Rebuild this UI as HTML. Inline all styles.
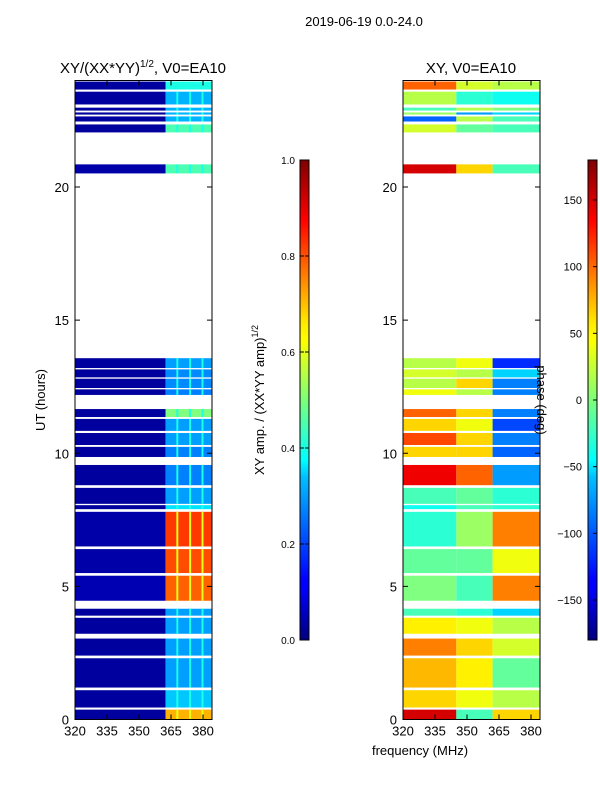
<!DOCTYPE html>
<html><head><meta charset="utf-8"><style>
body{margin:0;background:#fff;font-family:"Liberation Sans","DejaVu Sans",sans-serif}
</style></head><body>
<svg id="fig" width="600" height="800" xmlns="http://www.w3.org/2000/svg" font-family="Liberation Sans, DejaVu Sans, sans-serif">
<defs>
<linearGradient id="jet" x1="0" y1="1" x2="0" y2="0">
<stop offset="0" stop-color="#00007f"/><stop offset="0.11" stop-color="#0000ff"/><stop offset="0.125" stop-color="#0000ff"/>
<stop offset="0.34" stop-color="#00c0ff"/><stop offset="0.375" stop-color="#00ffff"/><stop offset="0.5" stop-color="#7dff7a"/>
<stop offset="0.625" stop-color="#ffff00"/><stop offset="0.66" stop-color="#ffea00"/><stop offset="0.875" stop-color="#ff0000"/><stop offset="1" stop-color="#7f0000"/>
</linearGradient>
</defs>
<text x="364" y="26" font-size="13" text-anchor="middle">2019-06-19 0.0-24.0</text>
<text x="143" y="73" font-size="15" text-anchor="middle">XY/(XX*YY)<tspan font-size="10" dy="-6">1/2</tspan><tspan dy="6">, V0=EA10</tspan></text>
<text x="471" y="73" font-size="15" text-anchor="middle">XY, V0=EA10</text>
<g id="left"></g>
<g id="right"></g>
<text transform="translate(45,400) rotate(-90)" font-size="13" text-anchor="middle">UT (hours)</text>
<text x="420" y="755" font-size="13" text-anchor="middle">frequency (MHz)</text>
<rect x="300" y="160" width="9" height="480" fill="url(#jet)" stroke="#000"/>
<rect x="588" y="160" width="9" height="480" fill="url(#jet)" stroke="#000"/>
<text transform="translate(264,400) rotate(-90)" font-size="13" text-anchor="middle">XY amp. / (XX*YY amp)<tspan font-size="9" dy="-6">1/2</tspan></text>
<text transform="translate(537,400) rotate(90)" font-size="13" text-anchor="middle">phase (deg)</text>
<g id="cb"></g>
</svg>
<script>
// data: time bands (hours) with values
const bandStart=[23.66,23.1,22.87,22.72,22.46,22.05,20.51,13.2,12.85,12.45,12.19,11.36,10.84,10.31,9.86,8.8,8.1,7.9,6.5,5.5,4.46,3.9,3.22,2.4,1.2,0.45,0];
const bandEnd=[23.96,23.58,22.98,22.8,22.65,22.35,20.85,13.57,13.15,12.8,12.4,11.66,11.29,10.76,10.24,9.56,8.7,8.05,7.8,6.4,5.4,4.16,3.82,3.04,2.3,1.1,0.37];
const ampBg=[0.03,0.03,0.03,0.03,0.03,0.03,0.04,0.03,0.03,0.03,0.03,0.03,0.03,0.03,0.03,0.03,0.03,0.03,0.04,0.04,0.05,0.03,0.03,0.03,0.03,0.03,0.03];
const ampHi=[0.4,0.3,0.3,0.3,0.3,0.45,0.45,0.28,0.26,0.26,0.25,0.5,0.28,0.28,0.25,0.25,0.28,0.35,0.82,0.8,0.78,0.28,0.28,0.28,0.28,0.32,0.7];
const phaseA=[100,20,-20,10,-100,30,150,20,30,20,40,100,60,110,60,140,-20,-40,-30,-10,0,-20,50,90,70,60,150];
const phaseB=[30,-30,20,-80,20,-10,60,40,20,60,20,60,40,60,60,100,-10,-20,10,-10,-20,-30,40,60,50,40,-20];
const phaseC=[20,-40,0,-60,-20,-20,-20,-120,-60,-90,-90,-90,-110,-90,-100,-80,-30,-30,90,40,90,-60,20,30,-10,20,60];
const freqTicks=[320,335,350,365,380];
const ampTicks=[0.0,0.2,0.4,0.6,0.8,1.0];
const phaseTicks=[-150,-100,-50,0,50,100,150];
const utTicks=[0,5,10,15,20];

const NS='http://www.w3.org/2000/svg';
const Y0=719.5,Y1=80.5;
const yS=h=>Y0-(h/24)*(Y0-Y1);
function xS(f,left){return left+(f-320)*(128/60);}
function jet(v){v=Math.max(0,Math.min(1,v));
 const r=Math.min(4*v-1.5,-4*v+4.5),g=Math.min(4*v-0.5,-4*v+3.5),b=Math.min(4*v+0.5,-4*v+2.5);
 const c=t=>Math.round(255*Math.max(0,Math.min(1,t)));return `rgb(${c(r)},${c(g)},${c(b)})`;}
function mk(tag,attrs,parent){const e=document.createElementNS(NS,tag);for(const k in attrs)e.setAttribute(k,attrs[k]);parent.appendChild(e);return e;}
function axes(g,left){
 const right=left+137;
 mk('rect',{x:left,y:Y1,width:137,height:Y0-Y1,fill:'none',stroke:'#000','stroke-width':1},g);
 freqTicks.forEach(f=>{const x=xS(f,left);
  mk('line',{x1:x,x2:x,y1:Y0,y2:Y0-5,stroke:'#000'},g);mk('line',{x1:x,x2:x,y1:Y1,y2:Y1+5,stroke:'#000'},g);
  const t=mk('text',{x:x,y:Y0+16,'font-size':13,'text-anchor':'middle'},g);t.textContent=f;
  
  });
 utTicks.forEach(h=>{const y=yS(h);
  mk('line',{x1:left,x2:left+5,y1:y,y2:y,stroke:'#000'},g);mk('line',{x1:right-5,x2:right,y1:y,y2:y,stroke:'#000'},g);
  const t=mk('text',{x:left-6,y:y+5,'font-size':13,'text-anchor':'end'},g);t.textContent=h;
  
  });
}
const L=document.getElementById('left'),R=document.getElementById('right');
const hiStart=362.5,fEnd=384.2;
bandStart.forEach((s,i)=>{
 const y=yS(bandEnd[i]),h=yS(s)-yS(bandEnd[i]);
 let r=mk('rect',{x:xS(320,75),y:y,width:xS(hiStart,75)-75,height:h,fill:jet(ampBg[i])},L);
 
 
 r=mk('rect',{x:xS(hiStart,75),y:y,width:xS(fEnd,75)-xS(hiStart,75),height:h,fill:jet(ampHi[i])},L);
 
 
 [367.5,373.5,379.3].forEach(f=>{mk('rect',{x:xS(f,75),y:y,width:2,height:h,fill:jet(ampHi[i]>0.6?0.6:0.4)},L);});
 const segs=[[320,345,phaseA[i]],[345,362,phaseB[i]],[362,fEnd,phaseC[i]]];
 segs.forEach(sg=>{const c=mk('rect',{x:xS(sg[0],403),y:y,width:xS(sg[1],403)-xS(sg[0],403),height:h,fill:jet((sg[2]+180)/360)},R);
  
  });
});
axes(L,75);axes(R,403);
const cb=document.getElementById('cb');
ampTicks.forEach(v=>{const y=640-v*480;mk('line',{x1:300,x2:304,y1:y,y2:y,stroke:'#000'},cb);mk('line',{x1:305,x2:309,y1:y,y2:y,stroke:'#000'},cb);
 const t=mk('text',{x:295,y:y+4,'font-size':10,'text-anchor':'end'},cb);t.textContent=v.toFixed(1);
 
 });
phaseTicks.forEach(v=>{const y=640-(v+180)/360*480;mk('line',{x1:593,x2:597,y1:y,y2:y,stroke:'#000'},cb);
 const t=mk('text',{x:582,y:y+4,'font-size':11,'text-anchor':'end'},cb);t.textContent=v<0?'\u2212'+(-v):v;
 
 });
</script>
</body></html>
